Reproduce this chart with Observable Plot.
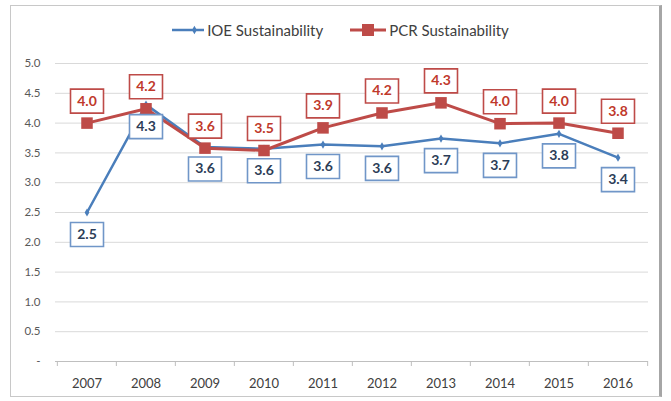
<!DOCTYPE html>
<html>
<head>
<meta charset="utf-8">
<script src="https://cdn.jsdelivr.net/npm/d3@7"></script>
<script src="https://cdn.jsdelivr.net/npm/@observablehq/plot@0.6"></script>
<style>
  html, body { margin: 0; padding: 0; background: #fff; }
  #wrap { position: relative; width: 671px; height: 401px; overflow: hidden; font-family: Lato, "Open Sans", sans-serif; }
  #frame { position: absolute; left: 10px; top: 5px; width: 652px; height: 392px; border: 1px solid #c8c8c8; border-right: 3px solid #a6a6a6; box-sizing: border-box; pointer-events: none; }
  #legend { height: 48px; display: flex; justify-content: center; align-items: flex-start; gap: 27px; padding-left: 10px; padding-top: 14px; box-sizing: border-box; }
  .item { display: flex; align-items: center; font-size: 15px; color: #404040; height: 32px; }
  .item svg { margin-right: 3px; }
  #chart svg { display: block; }
</style>
</head>
<body>
<div id="wrap">
  <div id="legend"></div>
  <div id="chart"></div>
  <div id="frame"></div>
</div>
<script>
const years = ["2007","2008","2009","2010","2011","2012","2013","2014","2015","2016"];
const ioeValues = [2.5, 4.31, 3.6, 3.57, 3.64, 3.61, 3.74, 3.66, 3.82, 3.42];
const pcrValues = [4.0, 4.24, 3.58, 3.54, 3.92, 4.17, 4.34, 3.99, 4.0, 3.83];
const yTicks = [0, 0.5, 1, 1.5, 2, 2.5, 3, 3.5, 4, 4.5, 5];
const seriesNames = ["IOE Sustainability", "PCR Sustainability"];

const blue = "#4a7ebb", red = "#be4b48";
const blueBox = "#7096c8", blueText = "#2c3d57";
const redText = "#c0392b";

const ioe = years.map((year, i) => ({year, value: ioeValues[i]}));
const pcr = years.map((year, i) => ({year, value: pcrValues[i]}));
const fmt = d3.format(".1f");

const W = 671, H = 353;
const mL = 55, mR = 23;
const bw = (W - mL - mR) / years.length;

const labelBox = { draw(ctx) { ctx.rect(-16.5, -12, 33, 24); } };

const chart = Plot.plot({
  width: W,
  height: H,
  marginLeft: mL,
  marginRight: mR,
  marginTop: 15,
  marginBottom: 40,
  style: { fontFamily: "Lato, 'Open Sans', sans-serif", background: "white" },
  x: { type: "band", domain: years, padding: 0, label: null },
  y: { domain: [0, 5], label: null },
  marks: [
    Plot.gridY(yTicks, { stroke: "#d9d9d9", strokeOpacity: 1, strokeWidth: 1 }),
    Plot.ruleY([0], { stroke: "#bfbfbf", strokeWidth: 1 }),
    Plot.ruleX(years, { x: d => d, y1: 0, y2: 0, insetBottom: -5, dx: -bw / 2, stroke: "#bfbfbf" }),
    Plot.ruleX(years.slice(-1), { x: d => d, y1: 0, y2: 0, insetBottom: -5, dx: bw / 2, stroke: "#bfbfbf" }),
    Plot.axisY({ ticks: yTicks, tickSize: 0, tickPadding: 15, fontSize: 11.5, fill: "#595959", label: null,
      tickFormat: d => d === 0 ? "-" : fmt(d) }),
    Plot.axisX({ tickSize: 0, tickPadding: 17, fontSize: 13, fill: "#404040", label: null }),
    Plot.line(ioe, { x: "year", y: "value", stroke: blue, strokeWidth: 2.5 }),
    Plot.line(pcr, { x: "year", y: "value", stroke: red, strokeWidth: 3 }),
    Plot.dot(ioe, { x: "year", y: "value", symbol: "diamond", r: 2.5, fill: blue }),
    Plot.dot(pcr, { x: "year", y: "value", symbol: "square", r: 6.5, fill: red }),
    Plot.dot(ioe, { x: "year", y: "value", dy: 22, symbol: labelBox, fill: "white", stroke: blueBox, strokeWidth: 1.6 }),
    Plot.text(ioe, { x: "year", y: "value", dy: 22, text: d => fmt(d.value), fill: blueText, fontSize: 14, fontWeight: "bold" }),
    Plot.dot(pcr, { x: "year", y: "value", dy: -22, symbol: labelBox, fill: "white", stroke: red, strokeWidth: 1.6 }),
    Plot.text(pcr, { x: "year", y: "value", dy: -22, text: d => fmt(d.value), fill: redText, fontSize: 14, fontWeight: "bold" })
  ]
});
document.getElementById("chart").appendChild(chart);

// legend
const legend = d3.select("#legend");
const items = [
  { name: seriesNames[0], color: blue, marker: "diamond", width: 32 },
  { name: seriesNames[1], color: red, marker: "square", width: 36 }
];
items.forEach(it => {
  const div = legend.append("div").attr("class", "item");
  const s = div.append("svg").attr("width", it.width).attr("height", 14);
  s.append("line").attr("x1", 0).attr("x2", it.width).attr("y1", 7).attr("y2", 7)
    .attr("stroke", it.color).attr("stroke-width", it.marker === "square" ? 3 : 2.5);
  if (it.marker === "square") {
    s.append("rect").attr("x", it.width / 2 - 6).attr("y", 1).attr("width", 12).attr("height", 12).attr("fill", it.color);
  } else {
    s.append("path").attr("d", d3.symbol(d3.symbolDiamond, 20)()).attr("transform", `translate(${it.width * 0.7},7)`).attr("fill", it.color);
  }
  div.append("span").text(it.name);
});
</script>
</body>
</html>
